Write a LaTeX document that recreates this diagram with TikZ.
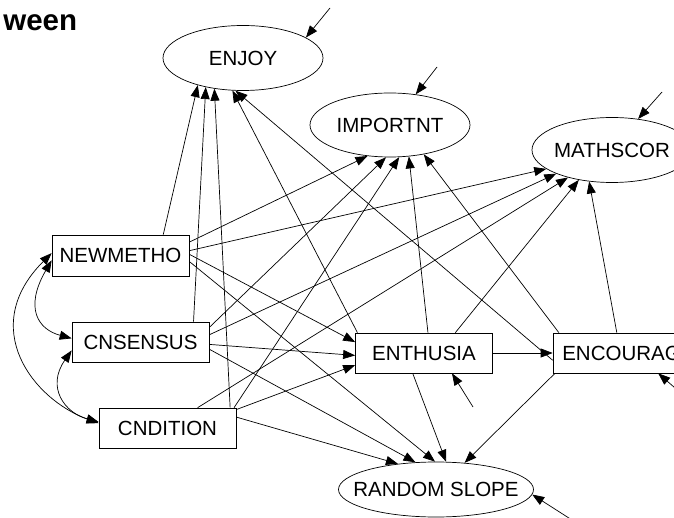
\documentclass[tikz,border=0pt]{standalone}
\usepackage{fontspec}
\setmainfont{Liberation Sans}
\usetikzlibrary{arrows.meta,shapes.geometric}
\newcommand{\ovname}[1]{\makebox[0pt]{#1}}

\begin{document}
\begin{tikzpicture}[x=1pt, y=1pt, line width=0.7pt, >={Triangle[length=12pt,width=9pt]},
	font=\fontsize{20.5}{24}\selectfont,
	obs/.style={rectangle, draw=black, minimum width=137pt, minimum height=40pt, inner sep=0pt},
	lat/.style={ellipse, draw=black, inner sep=0pt}]
			\useasboundingbox (0,0) rectangle (674,517);
			\clip (0,0) rectangle (674,517);
			\node[anchor=base west, inner sep=0pt, font=\bfseries\fontsize{29.5}{34}\selectfont] (title) at (3,486) {ween};
			
			% outcomes
			\node[lat, minimum width=160pt, minimum height=65pt] (enjoy) at (243,459) {\ovname{ENJOY}};
			\node[lat, minimum width=160pt, minimum height=64pt] (importnt) at (390,392) {\ovname{IMPORTNT}};
			\node[lat, minimum width=160pt, minimum height=65pt] (mathscor) at (612,367) {\ovname{MATHSCOR}};
			\node[lat, minimum width=195pt, minimum height=55pt] (rslope) at (436,27.5) {\ovname{RANDOM SLOPE}};
			
			% predictors
			\node[obs, minimum height=41pt] (newmetho) at (120.5,261.5) {NEWMETHO};
			\node[obs] (cnsensus) at (140.5,175) {CNSENSUS};
			\node[obs] (cndition) at (167.5,89) {CNDITION};
			\node[obs] (enthusia) at (424,164) {ENTHUSIA};
			\node[obs] (encourag) at (621.5,164) {ENCOURAG};
			
			% residuals
			\coordinate (e1) at (330,509);
			\coordinate (e2) at (437,450);
			\coordinate (e3) at (662,425);
			\coordinate (e4) at (473,110);
			\coordinate (e5) at (690,116);
			\coordinate (e6) at (572,-3);
			
			\path[->] (e1) edge (enjoy.18);
			\path[->] (e2) edge (importnt.50);
			\path[->] (e3) edge (mathscor.50);
			\path[->] (e4) edge (enthusia.-36);
			\path[->] (e5) edge (encourag.-29);
			\path[->] (e6) edge (rslope.-3);
			
			\path[->] (newmetho.26) edge (enjoy.211);
			\path[->] (newmetho.11) edge (importnt.234);
			\path[->] (newmetho.4) edge (mathscor.196);
			\path[->] (newmetho.1) edge (enthusia.171);
			\path[->] (newmetho.-5) edge (rslope.92);
			
			\path[->] (cnsensus.21) edge (enjoy.218);
			\path[->] (cnsensus.12) edge (importnt.263);
			\path[->] (cnsensus.6) edge (mathscor.203);
			\path[->] (cnsensus.-2) edge (enthusia.182);
			\path[->] (cnsensus.-6) edge (rslope.127);
			
			\path[->] (cndition.18) edge (enjoy.227);
			\path[->] (cndition.17) edge (importnt.286);
			\path[->] (cndition.34) edge (mathscor.212);
			\path[->] (cndition.15) edge (enthusia.190);
			\path[->] (cndition.9) edge (rslope.146);
			
			\path[->] (enthusia.163) edge (enjoy.252);
			\path[->] (enthusia.79) edge (importnt.301);
			\path[->] (enthusia.33) edge (mathscor.222);
			\path[->] (enthusia.east) edge (encourag.west);
			\path[->] (enthusia.-119) edge (rslope.70);
			
			\path[->] (encourag.186) edge (enjoy.257);
			\path[->] (encourag.162) edge (importnt.319);
			\path[->] (encourag.103) edge (mathscor.234);
			\path[->] (encourag.197) edge (rslope.43);
			
			% correlations
			\path[<->] (newmetho.178) edge [out=225, in=160, out distance=105pt, in distance=70pt] (cndition.176);
			\path[<->] (newmetho.184) edge [out=240, in=165, out distance=55pt, in distance=35pt] (cnsensus.177);
			\path[<->] (cnsensus.187) edge [out=235, in=165, out distance=45pt, in distance=35pt] (cndition.175);
\end{tikzpicture}
\end{document}
